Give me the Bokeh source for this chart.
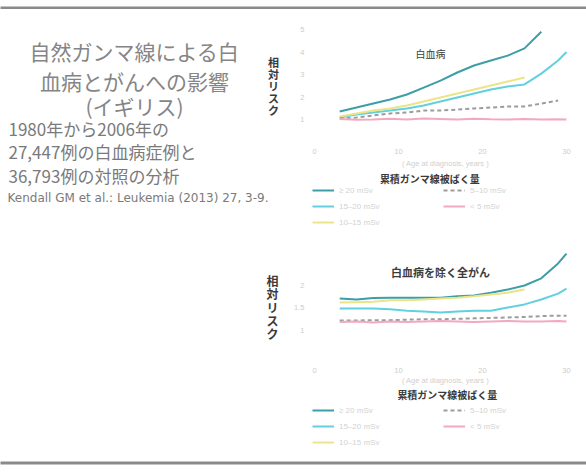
from bokeh.plotting import figure
from bokeh.layouts import column, row
from bokeh.models import Label, Legend, LegendItem, Range1d, FixedTicker
from bokeh.embed import file_html
from bokeh.resources import INLINE

JP = "Noto Sans CJK JP"

# ---------------- text content ----------------
title_lines = ["自然ガンマ線による白", "血病とがんへの影響", "(イギリス)"]
info_lines = ["1980年から2006年の", "27,447例の白血病症例と", "36,793例の対照の分析"]
citation = "Kendall GM et al.: Leukemia (2013) 27, 3-9."
y_label = "相対リスク"
panel_titles = ["白血病", "白血病を除く全がん"]
legend_title = "累積ガンマ線被ばく量"
x_label = "( Age at diagnosis, years )"
series_names = ["≥ 20 mSv", "15–20 mSv", "10–15 mSv", "5–10 mSv", "< 5 mSv"]
series_colors = ["#3c9ea6", "#62d0df", "#ebe488", "#9c9c9c", "#f2a9be"]
series_dash = ["solid", "solid", "solid", "4 3", "solid"]

# ---------------- data ----------------
x_vals = [3, 5, 7, 9, 11, 13, 15, 17, 19, 21, 23, 25, 27, 29, 30]
x_ticks = [0, 10, 20, 30]

leuk_A = [1.36, 1.53, 1.71, 1.89, 2.11, 2.42, 2.73, 3.09, 3.40, 3.62, 3.84, 4.16, 4.90]
leuk_B = [1.09, 1.22, 1.31, 1.40, 1.49, 1.62, 1.80, 1.98, 2.16, 2.33, 2.47, 2.56, 3.04, 3.62, 4.00]
leuk_C = [1.13, 1.27, 1.40, 1.49, 1.62, 1.80, 1.98, 2.16, 2.33, 2.51, 2.69, 2.87]
leuk_D = [1.04, 1.09, 1.18, 1.27, 1.31, 1.40, 1.40, 1.44, 1.49, 1.53, 1.58, 1.58, 1.71, 1.84]
leuk_E = [1.02, 0.99, 1.00, 1.03, 1.00, 1.04, 1.02, 1.00, 1.03, 1.01, 1.00, 1.02, 1.00, 1.01, 1.00]
leuk_yticks = [1, 2, 3, 4, 5]

canc_A = [1.71, 1.69, 1.72, 1.73, 1.73, 1.73, 1.73, 1.76, 1.78, 1.84, 1.91, 2.00, 2.16, 2.49, 2.71]
canc_B = [1.49, 1.49, 1.49, 1.47, 1.44, 1.42, 1.40, 1.42, 1.44, 1.44, 1.51, 1.58, 1.69, 1.82, 1.93]
canc_C = [1.62, 1.63, 1.64, 1.67, 1.67, 1.69, 1.71, 1.73, 1.76, 1.80, 1.84, 1.91]
canc_D = [1.22, 1.22, 1.23, 1.23, 1.24, 1.25, 1.25, 1.26, 1.27, 1.28, 1.29, 1.30, 1.32, 1.33, 1.33]
canc_E = [1.19, 1.20, 1.18, 1.20, 1.19, 1.20, 1.21, 1.20, 1.19, 1.20, 1.21, 1.20, 1.20, 1.21, 1.20]
canc_yticks = [1, 1.5, 2]

NAN = float("nan")


def band(height, top, bottom, color):
    s = figure(width=586, height=height, output_backend="svg", toolbar_location=None,
               x_axis_location=None, y_axis_location=None,
               min_border_left=0, min_border_right=0, min_border_top=top, min_border_bottom=bottom)
    s.outline_line_color = None
    s.grid.visible = False
    s.background_fill_color = color
    s.border_fill_color = "white"
    return s


def chart(height, top_b, bot_b, yr, yticks, series, title, title_xy, title_size, title_bold,
          tick_standoff, lab_standoff):
    p = figure(width=304, height=height, x_range=Range1d(-0.238, 31.43), y_range=Range1d(*yr),
               output_backend="svg", toolbar_location=None,
               min_border_left=30, min_border_right=8, min_border_top=top_b, min_border_bottom=bot_b)
    p.outline_line_color = None
    p.grid.visible = False
    p.background_fill_color = "white"
    p.border_fill_color = "white"
    for ax in (p.xaxis[0], p.yaxis[0]):
        ax.axis_line_color = None
        ax.major_tick_line_color = None
        ax.minor_tick_line_color = None
        ax.major_tick_out = 0
        ax.major_tick_in = 0
        ax.minor_tick_out = 0
        ax.major_label_text_color = "#cccccc"
        ax.major_label_text_font_size = "7.5px"
    p.xaxis.ticker = FixedTicker(ticks=x_ticks)
    p.yaxis.ticker = FixedTicker(ticks=yticks)
    p.xaxis.major_label_standoff = tick_standoff
    p.yaxis.major_label_standoff = 8
    p.xaxis.axis_label = x_label
    p.xaxis.axis_label_text_color = "#cfcfcf"
    p.xaxis.axis_label_text_font_size = "7.5px"
    p.xaxis.axis_label_text_font_style = "normal"
    p.xaxis.axis_label_standoff = lab_standoff

    for ys, col, dash in zip(series, series_colors, series_dash):
        p.line(x_vals[:len(ys)], ys, line_color=col, line_width=2, line_dash=dash)

    p.add_layout(Label(x=title_xy[0], y=title_xy[1], text=title, text_font=JP,
                       text_font_size=title_size, text_font_style=title_bold, text_color="#3c3c3c",
                       text_align="center", text_baseline="middle"))
    return p


def legend_panel(height, title_x, title_y, leg_bottom):
    q = figure(width=304, height=height, x_range=Range1d(0, 304), y_range=Range1d(height, 0),
               output_backend="svg", toolbar_location=None,
               x_axis_location=None, y_axis_location=None,
               min_border_left=0, min_border_right=0, min_border_top=0, min_border_bottom=0)
    q.outline_line_color = None
    q.grid.visible = False
    items = []
    for name, col, dash in zip(series_names, series_colors, series_dash):
        # legend proxy: a single undefined point, so nothing is drawn in the panel itself
        r = q.line([0], [NAN], line_color=col, line_width=2, line_dash=dash)
        items.append(LegendItem(label=name, renderers=[r]))
    leg = Legend(items=items, nrows=3, orientation="vertical", location=(0, leg_bottom),
                 label_text_font_size="8px", label_text_color="#d2d2d2",
                 glyph_width=22, glyph_height=12, label_height=12, label_width=100, spacing=4,
                 padding=0, margin=0, border_line_color=None, background_fill_alpha=0)
    q.add_layout(leg, "center")
    q.add_layout(Label(x=title_x, y=title_y, text=legend_title, text_font=JP, text_font_size="10px",
                       text_font_style="bold", text_color="#3a3a3a",
                       text_align="left", text_baseline="middle"))
    return q


top = chart(163, 16, 34, (0.156, 5.178), leuk_yticks,
            [leuk_A, leuk_B, leuk_C, leuk_D, leuk_E],
            panel_titles[0], (13.8, 3.93), "10px", "normal", 10, 2)
top_leg = legend_panel(66, 77, 6, 10)
bot = chart(149, 7, 27, (0.333, 2.889), canc_yticks,
            [canc_A, canc_B, canc_C, canc_D, canc_E],
            panel_titles[1], (15.0, 2.29), "11px", "bold", 7, 0)
bot_leg = legend_panel(68, 97, 6.5, 7)

# ---------------- left text panel ----------------
left = figure(width=282, height=446, x_range=Range1d(0, 282), y_range=Range1d(446, 0),
              output_backend="svg", toolbar_location=None,
              x_axis_location=None, y_axis_location=None,
              min_border_left=0, min_border_right=0, min_border_top=0, min_border_bottom=0)
left.outline_line_color = None
left.grid.visible = False

for txt, yy in zip(title_lines, [41, 71, 96]):
    left.add_layout(Label(x=134, y=yy, text=txt, text_font=JP, text_font_size="21px",
                          text_color="#858585", text_align="center", text_baseline="middle"))
for txt, yy in zip(info_lines, [119, 142, 166]):
    left.add_layout(Label(x=8, y=yy, text=txt, text_font=JP, text_font_size="17px",
                          text_color="#7a7a7a", text_align="left", text_baseline="middle"))
left.add_layout(Label(x=7, y=188, text=citation, text_font="DejaVu Sans", text_font_size="12px",
                      text_color="#7a7a7a", text_align="left", text_baseline="middle"))

# vertical (upright) y-axis titles of the two charts
for i, ch in enumerate(y_label):
    left.add_layout(Label(x=273, y=52 + 12 * i, text=ch, text_font=JP, text_font_size="11px",
                          text_font_style="bold", text_color="#3a3a3a",
                          text_align="center", text_baseline="middle"))
    left.add_layout(Label(x=272, y=271 + 13.3 * i, text=ch, text_font=JP, text_font_size="12px",
                          text_font_style="bold", text_color="#3a3a3a",
                          text_align="center", text_baseline="middle"))

layout = column(
    band(9, 3, 3, "#8a8a8a"),
    row(left, column(top, top_leg, bot, bot_leg)),
    band(18, 6, 9, "#8a8a8a"),
)

open("out.html", "w").write(file_html(layout, INLINE))
